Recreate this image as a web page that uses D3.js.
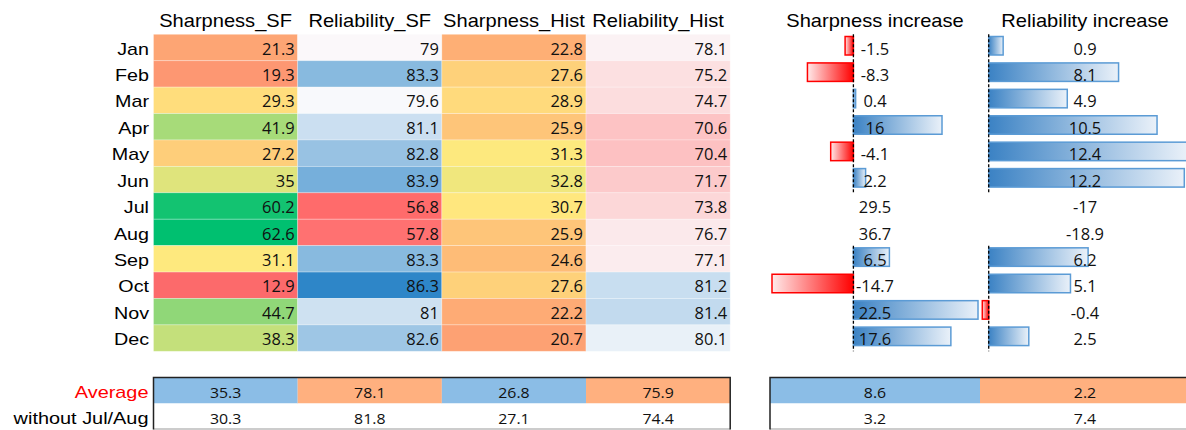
<!DOCTYPE html>
<html>
<head>
<meta charset="utf-8">
<script src="https://cdn.jsdelivr.net/npm/d3@7"></script>
<style>
  body { margin: 0; background: #fff; }
  .hdr { font-family: "Liberation Sans", Arial, sans-serif; font-size: 18.6px; fill: #000; }
  .lab { font-family: "Liberation Sans", Arial, sans-serif; font-size: 17px; fill: #000; }
  .val { font-family: "Open Sans", sans-serif; font-size: 15.4px; fill: #111; }
  .val2 { font-family: "Open Sans", sans-serif; font-size: 15px; fill: #111; }
</style>
</head>
<body>
<div id="chart"></div>
<script>
// table data
var months = ["Jan", "Feb", "Mar", "Apr", "May", "Jun", "Jul", "Aug", "Sep", "Oct", "Nov", "Dec"];
var columns = ["Sharpness_SF", "Reliability_SF", "Sharpness_Hist", "Reliability_Hist"];
var sharpSF = [21.3, 19.3, 29.3, 41.9, 27.2, 35, 60.2, 62.6, 31.1, 12.9, 44.7, 38.3];
var relSF = [79, 83.3, 79.6, 81.1, 82.8, 83.9, 56.8, 57.8, 83.3, 86.3, 81, 82.6];
var sharpHist = [22.8, 27.6, 28.9, 25.9, 31.3, 32.8, 30.7, 25.9, 24.6, 27.6, 22.2, 20.7];
var relHist = [78.1, 75.2, 74.7, 70.6, 70.4, 71.7, 73.8, 76.7, 77.1, 81.2, 81.4, 80.1];

// increase columns (Jul/Aug shown as text only)
var incColumns = ["Sharpness increase", "Reliability increase"];
var sharpInc = [-1.5, -8.3, 0.4, 16, -4.1, 2.2, 29.5, 36.7, 6.5, -14.7, 22.5, 17.6];
var relInc = [0.9, 8.1, 4.9, 10.5, 12.4, 12.2, -17, -18.9, 6.2, 5.1, -0.4, 2.5];
var noBar = ["Jul", "Aug"];

// summary rows
var sumRows = ["Average", "without Jul/Aug"];
var avgAll = [35.3, 78.1, 26.8, 75.9];
var avgNoJulAug = [30.3, 81.8, 27.1, 74.4];
var incAvgAll = [8.6, 2.2];
var incAvgNoJulAug = [3.2, 7.4];

var width = 1186, height = 430;

var svg = d3.select("#chart").append("svg")
    .attr("width", width)
    .attr("height", height);

var defs = svg.append("defs");
var gBlue = defs.append("linearGradient").attr("id", "gBlue");
gBlue.append("stop").attr("offset", "0%").attr("stop-color", "#3b82c4");
gBlue.append("stop").attr("offset", "100%").attr("stop-color", "#eaf1f9");
var gRed = defs.append("linearGradient").attr("id", "gRed");
gRed.append("stop").attr("offset", "0%").attr("stop-color", "#ffeaea");
gRed.append("stop").attr("offset", "100%").attr("stop-color", "#ff0000");

var x = d3.scaleBand().domain(columns).range([153.5, 730.2]);
var y = d3.scaleBand().domain(months).range([34.3, 351.3]);

var sharpColor = d3.scaleLinear()
    .domain([d3.min(sharpSF.concat(sharpHist)), 31, d3.max(sharpSF.concat(sharpHist))])
    .range(["#fc6a6b", "#ffe97e", "#00c070"]);
var relColor = d3.scaleLinear()
    .domain([d3.min(relSF.concat(relHist)), 79.5, d3.max(relSF.concat(relHist))])
    .range(["#ff6b6b", "#fbfbfd", "#2e86c8"]);

var series = [sharpSF, relSF, sharpHist, relHist];
var cells = [];
series.forEach(function(vals, ci) {
  vals.forEach(function(v, i) {
    cells.push({col: columns[ci], m: months[i], v: v, sharp: ci % 2 === 0});
  });
});

// heatmap cells
svg.selectAll(".cell")
    .data(cells)
    .join("rect")
    .attr("class", "cell")
    .attr("x", function(d) { return x(d.col); })
    .attr("y", function(d) { return y(d.m); })
    .attr("width", x.bandwidth())
    .attr("height", y.bandwidth())
    .style("fill", function(d) { return d.sharp ? sharpColor(d.v) : relColor(d.v); })
    .style("stroke", "#fff")
    .style("stroke-opacity", 0.35)
    .style("stroke-width", 0.8);

svg.selectAll(".cellText")
    .data(cells)
    .join("text")
    .attr("class", "val")
    .attr("text-anchor", "end")
    .attr("transform", function(d) {
      return "translate(" + (x(d.col) + x.bandwidth() - 3) + "," + (y(d.m) + 20.3) + ") scale(1.07,1)";
    })
    .text(function(d) { return d.v; });

// column headers
svg.selectAll(".colHdr")
    .data(columns)
    .join("text")
    .attr("class", "hdr")
    .attr("text-anchor", "middle")
    .attr("transform", function(d) {
      return "translate(" + (x(d) + x.bandwidth() / 2) + ",27) scale(1.08,1)";
    })
    .text(function(d) { return d; });

// month labels
svg.selectAll(".month")
    .data(months)
    .join("text")
    .attr("class", "lab")
    .attr("text-anchor", "end")
    .attr("transform", function(d) { return "translate(149," + (y(d) + 20.3) + ") scale(1.16,1)"; })
    .text(function(d) { return d; });

// increase panel
var xi = d3.scaleBand().domain(incColumns).range([770, 1190]);
var barScales = [
  d3.scaleLinear().domain(d3.extent(sharpInc.filter(function(v, i) { return noBar.indexOf(months[i]) < 0; }))).range([772, 978]),
  d3.scaleLinear().domain(d3.extent(relInc.filter(function(v, i) { return noBar.indexOf(months[i]) < 0; }))).range([982.3, 1187.5])
];

svg.selectAll(".incHdr")
    .data(incColumns)
    .join("text")
    .attr("class", "hdr")
    .attr("text-anchor", "middle")
    .attr("transform", function(d) {
      return "translate(" + (xi(d) + xi.bandwidth() / 2) + ",27) scale(1.08,1)";
    })
    .text(function(d) { return d; });

var incCells = [];
[sharpInc, relInc].forEach(function(vals, ci) {
  vals.forEach(function(v, i) {
    incCells.push({ci: ci, col: incColumns[ci], m: months[i], v: v, bar: noBar.indexOf(months[i]) < 0});
  });
});
var barCells = incCells.filter(function(d) { return d.bar; });

svg.selectAll(".bar")
    .data(barCells)
    .join("rect")
    .attr("class", "bar")
    .attr("x", function(d) { var s = barScales[d.ci]; return Math.min(s(0), s(d.v)); })
    .attr("y", function(d) { return y(d.m) + 2.2; })
    .attr("width", function(d) { var s = barScales[d.ci]; return Math.abs(s(d.v) - s(0)); })
    .attr("height", 18.5)
    .style("fill", function(d) { return d.v < 0 ? "url(#gRed)" : "url(#gBlue)"; })
    .style("stroke", function(d) { return d.v < 0 ? "#ff0000" : "#5b9bd5"; })
    .style("stroke-width", 1.5);

// dashed zero axes, split around Jul/Aug
var axisSegs = [];
[0, 1].forEach(function(ci) {
  axisSegs.push({ci: ci, from: "Jan", to: "Jun"});
  axisSegs.push({ci: ci, from: "Sep", to: "Dec"});
});
svg.selectAll(".zero")
    .data(axisSegs)
    .join("line")
    .attr("class", "zero")
    .attr("x1", function(d) { return barScales[d.ci](0); })
    .attr("x2", function(d) { return barScales[d.ci](0); })
    .attr("y1", function(d) { return y(d.from); })
    .attr("y2", function(d) { return y(d.to) + y.bandwidth(); })
    .style("stroke", "#000")
    .style("stroke-width", 1.3)
    .style("stroke-dasharray", "3,2");

svg.selectAll(".incText")
    .data(incCells)
    .join("text")
    .attr("class", "val")
    .attr("text-anchor", "middle")
    .attr("transform", function(d) {
      return "translate(" + (xi(d.col) + xi.bandwidth() / 2) + "," + (y(d.m) + 20.3) + ") scale(1.07,1)";
    })
    .text(function(d) { return d.v; });

// summary tables
var ys = d3.scaleBand().domain(sumRows).range([378, 429]);
var fills = ["#8bbde6", "#ffb07f"];

function summary(cols, xs, rowA, rowB) {
  var g = svg.append("g");
  var data = [];
  cols.forEach(function(c, i) {
    data.push({col: c, row: sumRows[0], v: rowA[i], fill: fills[i % 2]});
    data.push({col: c, row: sumRows[1], v: rowB[i], fill: "#fff"});
  });
  g.selectAll("rect")
      .data(data)
      .join("rect")
      .attr("x", function(d) { return xs(d.col); })
      .attr("y", function(d) { return ys(d.row); })
      .attr("width", xs.bandwidth())
      .attr("height", ys.bandwidth())
      .style("fill", function(d) { return d.fill; });
  g.selectAll("text")
      .data(data)
      .join("text")
      .attr("class", "val2")
      .attr("text-anchor", "middle")
      .attr("transform", function(d) {
        return "translate(" + (xs(d.col) + xs.bandwidth() / 2) + "," + (ys(d.row) + 20) + ") scale(1.06,1)";
      })
      .text(function(d) { return d.v; });
  var x0 = xs.range()[0], x1 = xs.range()[1];
  g.append("line").attr("x1", x0).attr("x2", x1).attr("y1", 429).attr("y2", 429)
      .style("stroke", "#bbb").style("stroke-width", 1.5);
  g.append("path")
      .attr("d", "M" + x0 + ",429.5V377.5H" + x1 + "V429.5")
      .style("fill", "none")
      .style("stroke", "#222")
      .style("stroke-width", 1.5);
}
summary(columns, x, avgAll, avgNoJulAug);
summary(incColumns, xi, incAvgAll, incAvgNoJulAug);

svg.selectAll(".sumLab")
    .data(sumRows)
    .join("text")
    .attr("class", "lab")
    .attr("text-anchor", "end")
    .attr("transform", function(d) { return "translate(148.5," + (ys(d) + 20) + ") scale(1.17,1)"; })
    .style("fill", function(d, i) { return i === 0 ? "#ff0000" : "#000"; })
    .text(function(d) { return d; });
</script>
</body>
</html>
